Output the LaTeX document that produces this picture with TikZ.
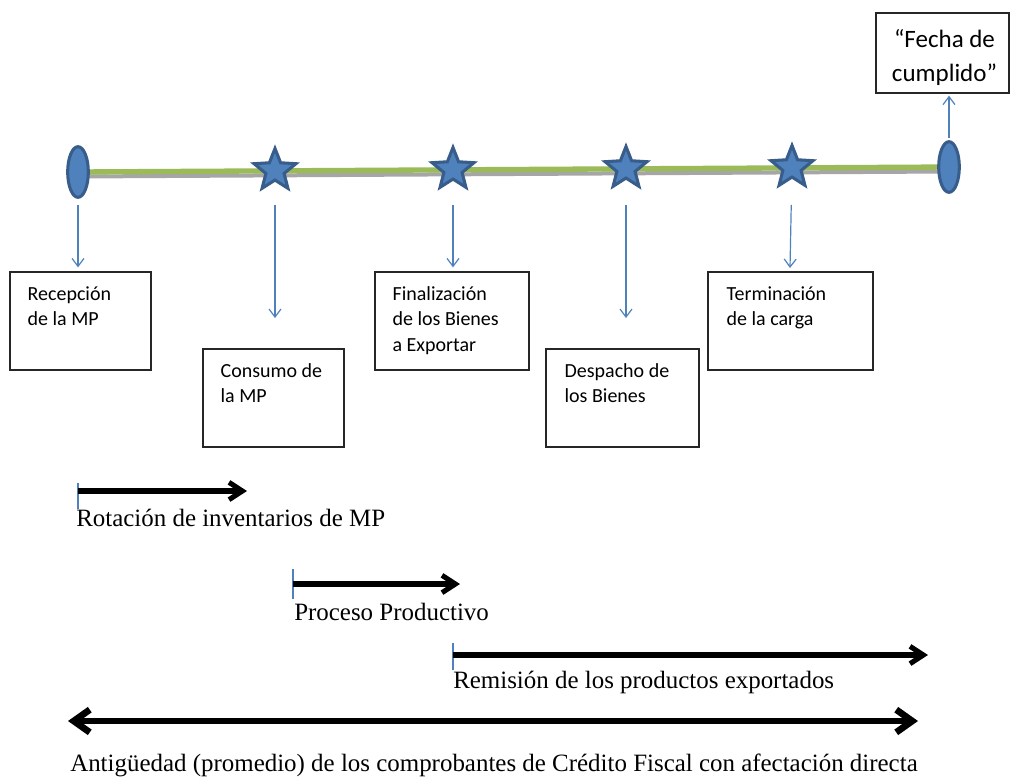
\documentclass[tikz,border=0pt]{standalone}
\usepackage{fontspec}
\setmainfont{Liberation Serif}
\newfontfamily\boxfont{Carlito}
\usetikzlibrary{shapes.geometric,arrows.meta,calc}
\definecolor{accblue}{RGB}{79,129,189}
\definecolor{darkblue}{RGB}{56,93,138}
\definecolor{tlgreen}{RGB}{155,187,89}
\definecolor{tlgray}{RGB}{166,166,166}
\begin{document}
\begin{tikzpicture}[x=0.75pt,y=-0.75pt,
  marker/.style={ellipse, fill=accblue, draw=darkblue, line width=2.3pt, minimum width=15.5pt, minimum height=38pt, inner sep=0pt},
  event/.style={star, star points=5, star point ratio=2.3, fill=accblue, draw=darkblue, line width=2.3pt, minimum size=33pt, inner sep=0pt},
  stepbox/.style={draw=black!85, line width=1pt, inner sep=0pt, minimum height=73.5pt},
  boxtext/.style={font=\boxfont\fontsize{15}{19}\selectfont, align=left, anchor=north west, inner sep=0pt},
  pointer/.style={draw=accblue, line width=0.9pt, -{Straight Barb[length=6pt,width=9pt]}},
  tick/.style={draw=accblue, line width=0.9pt},
  span/.style={line width=3.8pt, -{Straight Barb[length=10pt,width=13pt]}},
  bigspan/.style={line width=5pt, {Straight Barb[length=12pt,width=17pt]}-{Straight Barb[length=12pt,width=17pt]}},
  spantext/.style={font=\fontsize{18.7}{22}\selectfont, anchor=base west, inner sep=0pt}
]
\useasboundingbox (0,0) rectangle (1011,776);

% timeline
\coordinate (p0) at (78,172);
\coordinate (p1) at (949,167);
\draw[tlgray, line width=3pt] ($(p0)+(0,4.5)$) -- ($(p1)+(0,4.5)$);
\draw[tlgreen, line width=4pt] (p0) -- (p1);

\node[marker] (m0) at (p0) {};
\node[marker] (m1) at (p1) {};
\node[event] (s1) at (275,170.5) {};
\node[event] (s2) at (453,169.5) {};
\node[event] (s3) at (626,168.5) {};
\node[event] (s4) at (792,167.5) {};

% boxes
\node[stepbox, minimum width=105.75pt] (b1) at (80.5,321) {};
\node[stepbox, minimum width=105.75pt] (b2) at (273.5,398) {};
\node[stepbox, minimum width=115.5pt] (b3) at (452,321) {};
\node[stepbox, minimum width=114.75pt] (b4) at (622.5,398) {};
\node[stepbox, minimum width=123.75pt] (b5) at (790.5,321) {};
\node[stepbox, minimum width=99.75pt, minimum height=60pt] (b6) at (942.5,53) {};

\node[boxtext] (t1) at ($(b1.north west)+(18,15)$) {Recepción\\de la MP};
\node[boxtext] (t2) at ($(b2.north west)+(18,15)$) {Consumo de\\la MP};
\node[boxtext] (t3) at ($(b3.north west)+(18,15)$) {Finalización\\de los Bienes\\a Exportar};
\node[boxtext] (t4) at ($(b4.north west)+(19,15)$) {Despacho de\\los Bienes};
\node[boxtext] (t5) at ($(b5.north west)+(19,15)$) {Terminación\\de la carga};
\node[font=\boxfont\fontsize{18.75}{25.5}\selectfont, align=center, inner sep=0pt] (t6)
  at ($(b6.center)+(2,4)$) {“Fecha de\\cumplido”};

% pointers
\coordinate (e2) at (275,318);
\coordinate (e4) at (626,318);
\coordinate (e5) at (790,268);
\draw[pointer, shorten <=4.5pt, shorten >=3pt] (m0) -- (m0 |- b1.north);
\draw[pointer, shorten <=17.2pt] (s1) -- (e2);
\draw[pointer, shorten <=17.9pt, shorten >=3pt] (s2) -- (s2 |- b3.north);
\draw[pointer, shorten <=18.7pt] (s3) -- (e4);
\draw[pointer, shorten <=19.4pt] (s4) -- (e5);
\draw[pointer, shorten <=1.7pt, shorten >=1.5pt] (m1) -- (m1 |- b6.south);

% spans
\coordinate (rA) at (78,491);  \coordinate (rB) at (247,491);
\coordinate (pA) at (293,584); \coordinate (pB) at (460,584);
\coordinate (eA) at (453,655); \coordinate (eB) at (928,655);
\coordinate (aA) at (68,721);  \coordinate (aB) at (918,721);

\draw[tick] ($(rA)+(0,-8)$) -- ($(rA)+(0,18)$);
\draw[tick] ($(pA)+(0,-15)$) -- ($(pA)+(0,15)$);
\draw[tick] ($(eA)+(0,-12)$) -- ($(eA)+(0,15)$);

\draw[span] (rA) -- (rB);
\draw[span] (pA) -- (pB);
\draw[span] (eA) -- (eB);
\draw[bigspan] (aA) -- (aB);

\node[spantext] (l1) at (76,526) {Rotación de inventarios de MP};
\node[spantext] (l2) at (294,620) {Proceso Productivo};
\node[spantext] (l3) at (453,688) {Remisión de los productos exportados};
\node[spantext] (l4) at (70,771) {Antigüedad (promedio) de los comprobantes de Crédito Fiscal con afectación directa};
\end{tikzpicture}
\end{document}
